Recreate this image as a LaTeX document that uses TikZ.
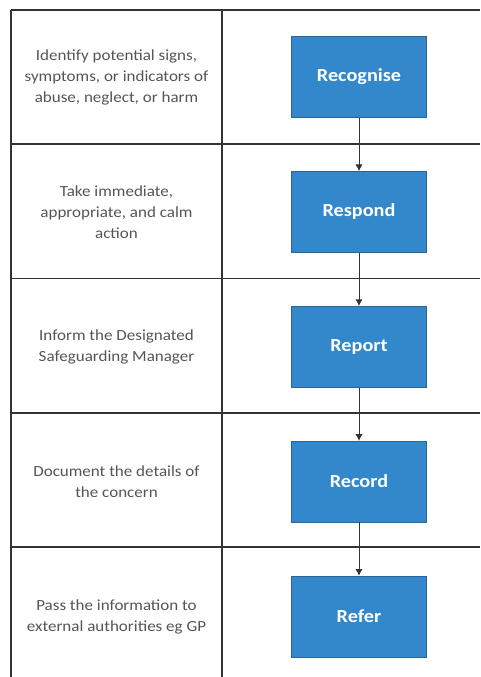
\documentclass[tikz,border=0pt]{standalone}
\usepackage{fontspec}
\setmainfont{Carlito}[FakeStretch=1.1]
\usetikzlibrary{arrows.meta, positioning}

\definecolor{stageblue}{HTML}{3388CC}
\definecolor{stageedge}{HTML}{2B6496}
\definecolor{desctext}{HTML}{555555}
\definecolor{tableline}{HTML}{333333}

\begin{document}
\begin{tikzpicture}[
    x=0.75pt, y=-0.75pt,
    node distance=40pt,
    stage/.style={rectangle, draw=stageedge, fill=stageblue, text=white, font=\fontsize{13.8}{16}\selectfont\bfseries, minimum width=101.25pt, minimum height=60.75pt, inner sep=0pt},
    desc/.style={align=center, text=desctext, font=\fontsize{11.6}{15.75}\selectfont},
    rowline/.style={tableline, line width=1.3pt},
    arrow/.style={tableline, line width=0.75pt, -{Latex[length=5pt, width=5.5pt]}}
]
\useasboundingbox (0,0) rectangle (480,677);

% Table frame
\draw[rowline] (11,10) -- (480,10);
\draw[rowline] (11,144) -- (480,144);
\draw[rowline] (11,278.5) -- (480,278.5);
\draw[rowline] (11,413) -- (480,413);
\draw[rowline] (11,547) -- (480,547);
\draw[rowline] (11,10) -- (11,677);
\draw[rowline] (222,10) -- (222,677);

% Process steps
\node[stage] (recognise) at (359,77) {Recognise};
\node[stage, below=of recognise] (respond) {Respond};
\node[stage, below=of respond] (report) {Report};
\node[stage, below=of report] (record) {Record};
\node[stage, below=of record] (refer) {Refer};

% Descriptions
\node[desc] (recognise_desc) at (116.5,0 |- recognise) {Identify potential signs,\\symptoms, or indicators of\\abuse, neglect, or harm};
\node[desc] (respond_desc) at (116.5,0 |- respond) {Take immediate,\\appropriate, and calm\\action};
\node[desc] (report_desc) at (116.5,0 |- report) {Inform the Designated\\Safeguarding Manager};
\node[desc] (record_desc) at (116.5,0 |- record) {Document the details of\\the concern};
\node[desc] (refer_desc) at (116.5,0 |- refer) {Pass the information to\\external authorities eg GP};

% Arrows
\draw[arrow] (recognise) -- (respond);
\draw[arrow] (respond) -- (report);
\draw[arrow] (report) -- (record);
\draw[arrow] (record) -- (refer);

\end{tikzpicture}
\end{document}
